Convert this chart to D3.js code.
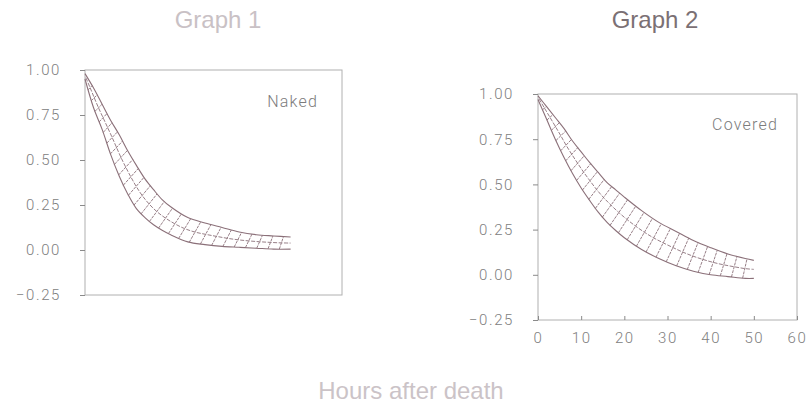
<!DOCTYPE html>
<html>
<head>
<meta charset="utf-8">
<script src="https://cdn.jsdelivr.net/npm/d3@7"></script>
<style>
  body { margin: 0; background: #fff; }
  .tick text { font-family: Roboto, "DejaVu Sans", sans-serif; font-weight: 300; font-size: 15px; fill: #808080; letter-spacing: 1.6px; }
  .tick line { stroke: #8a8a8a; }
</style>
</head>
<body>
<div id="chart"></div>
<script>
// hours after death (x) and the two edges of each shaded band (fraction)
var hoursNaked   = [0, 2, 4, 6, 8, 10, 12, 14, 16, 18, 20, 24, 28, 32, 36, 40, 44, 48];
var nakedUpper   = [0.98, 0.90, 0.81, 0.72, 0.64, 0.55, 0.47, 0.395, 0.335, 0.28, 0.24, 0.18, 0.15, 0.125, 0.10, 0.085, 0.078, 0.072];
var nakedLower   = [0.95, 0.79, 0.67, 0.53, 0.41, 0.31, 0.23, 0.18, 0.14, 0.11, 0.085, 0.045, 0.03, 0.02, 0.015, 0.01, 0.005, 0.005];

var hoursCovered = [0, 2, 4, 6, 8, 10, 12, 14, 16, 18, 20, 24, 28, 32, 36, 40, 44, 48, 50];
var coveredUpper = [0.99, 0.93, 0.87, 0.81, 0.74, 0.68, 0.62, 0.565, 0.51, 0.47, 0.43, 0.355, 0.29, 0.24, 0.19, 0.15, 0.115, 0.09, 0.08];
var coveredLower = [0.97, 0.86, 0.75, 0.65, 0.56, 0.48, 0.41, 0.345, 0.29, 0.245, 0.205, 0.14, 0.09, 0.05, 0.02, 0.0, -0.01, -0.02, -0.02];

var yTicks = [1.00, 0.75, 0.50, 0.25, 0.00, -0.25];
var xTicks = [0, 10, 20, 30, 40, 50, 60];
var titles = ["Graph 1", "Graph 2"];
var panelLabels = ["Naked", "Covered"];
var xTitle = "Hours after death";

var width = 809, height = 406;

var svg = d3.select("#chart")
    .append("svg")
    .attr("width", width)
    .attr("height", height);

var bandColor = "#8b7079";

function drawPanel(p) {
    var x = d3.scaleLinear().domain([0, 60]).range([p.left, p.left + p.w]);
    var y = d3.scaleLinear().domain([-0.25, 1]).range([p.bottom, p.top]);
    var g = svg.append("g");

    // frame
    g.append("rect")
        .attr("x", x(0))
        .attr("y", y(1))
        .attr("width", x(60) - x(0))
        .attr("height", y(-0.25) - y(1))
        .attr("fill", "none")
        .attr("stroke", "#b0b0b0")
        .attr("stroke-width", 1);

    var yAxis = g.append("g")
        .attr("transform", "translate(" + x(0) + ",0)")
        .call(d3.axisLeft(y).tickValues(yTicks).tickSize(5).tickPadding(19).tickFormat(d3.format(".2f")));
    yAxis.select(".domain").remove();

    if (p.showX) {
        var xAxis = g.append("g")
            .attr("transform", "translate(0," + y(-0.25) + ")")
            .call(d3.axisBottom(x).tickValues(xTicks).tickSize(-4).tickPadding(12));
        xAxis.select(".domain").remove();
    }

    var line = d3.line()
        .x(function(d) { return x(d[0]); })
        .y(function(d) { return y(d[1]); })
        .curve(d3.curveCatmullRom);

    var upPts = p.hours.map(function(h, i) { return [h, p.upper[i]]; });
    var loPts = p.hours.map(function(h, i) { return [h, p.lower[i]]; });

    var upPath = g.append("path").attr("d", line(upPts))
        .attr("fill", "none").attr("stroke", bandColor).attr("stroke-width", 1.1);
    var loPath = g.append("path").attr("d", line(loPts))
        .attr("fill", "none").attr("stroke", bandColor).attr("stroke-width", 1.1);

    // mesh inside the band
    var n = p.cells;
    var uLen = upPath.node().getTotalLength();
    var lLen = loPath.node().getTotalLength();
    var mids = [];
    for (var i = 0; i <= n; i++) {
        var t = i / n;
        var a = loPath.node().getPointAtLength(lLen * t);
        var b = upPath.node().getPointAtLength(uLen * Math.min(1, t + 0.012));
        mids.push([(a.x + b.x) / 2, (a.y + b.y) / 2]);
        if (i > 0 && i < n) {
            g.append("line")
                .attr("x1", a.x).attr("y1", a.y)
                .attr("x2", b.x).attr("y2", b.y)
                .attr("stroke", bandColor)
                .attr("stroke-width", 0.9)
                .attr("stroke-dasharray", "3,1");
        }
    }
    g.append("path")
        .attr("d", d3.line().curve(d3.curveCatmullRom)(mids))
        .attr("fill", "none")
        .attr("stroke", bandColor)
        .attr("stroke-width", 0.9)
        .attr("stroke-dasharray", "4,1.5");

    g.append("text")
        .attr("x", x(60) - p.labelDx)
        .attr("y", y(1) + p.labelDy)
        .attr("text-anchor", "end")
        .style("font-family", "Roboto, 'DejaVu Sans', sans-serif")
        .style("font-weight", 300)
        .style("font-size", "16px")
        .style("letter-spacing", "1.2px")
        .style("fill", "#7c7c7c")
        .text(p.label);

    svg.append("text")
        .attr("x", p.titleX)
        .attr("y", 28)
        .attr("text-anchor", "middle")
        .style("font-family", "'Liberation Sans', Arial, sans-serif")
        .style("font-size", "24px")
        .style("fill", p.titleColor)
        .text(p.title);
}

drawPanel({
    left: 85, w: 257, top: 70, bottom: 295,
    hours: hoursNaked, upper: nakedUpper, lower: nakedLower,
    cells: 27, showX: false,
    label: panelLabels[0], labelDx: 24, labelDy: 37,
    title: titles[0], titleX: 218, titleColor: "#c9c1c5"
});

drawPanel({
    left: 538, w: 259, top: 94, bottom: 320,
    hours: hoursCovered, upper: coveredUpper, lower: coveredLower,
    cells: 27, showX: true,
    label: panelLabels[1], labelDx: 19, labelDy: 36,
    title: titles[1], titleX: 655, titleColor: "#7b7074"
});

svg.append("text")
    .attr("x", 411)
    .attr("y", 399)
    .attr("text-anchor", "middle")
    .style("font-family", "'Liberation Sans', Arial, sans-serif")
    .style("font-size", "24px")
    .style("fill", "#cbc3c7")
    .text(xTitle);
</script>
</body>
</html>
